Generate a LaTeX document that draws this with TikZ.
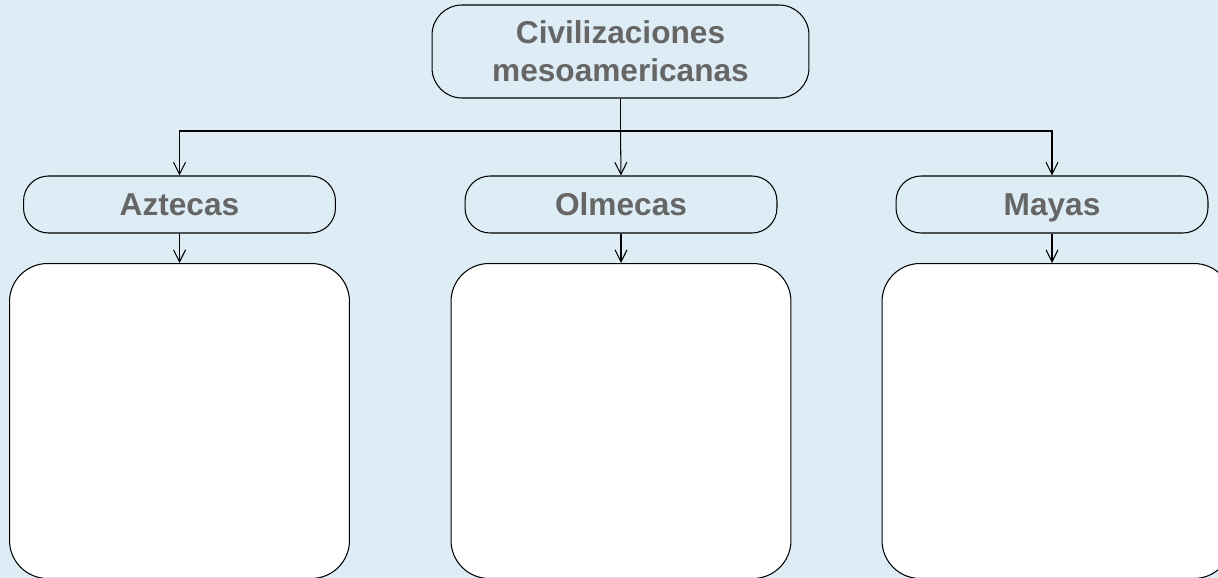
\documentclass[tikz,border=0pt]{standalone}
\usepackage{xcolor}
\usepackage{fontspec}
\setmainfont{Liberation Sans}
\usepackage{tikz}
\usetikzlibrary{arrows.meta}

\definecolor{bgblue}{RGB}{222,236,246}
\definecolor{labelgray}{RGB}{102,102,102}

\tikzset{
  title/.style={draw, rounded corners=0.6cm, fill=bgblue, line width=0.6pt,
    minimum width=7.54cm, minimum height=1.86cm, align=center,
    font=\fontsize{18}{21.6}\selectfont\bfseries, text=labelgray},
  civ/.style={draw, rounded corners=0.5cm, fill=bgblue, line width=0.6pt,
    minimum width=6.24cm, minimum height=1.14cm, text height=13pt, text depth=0pt,
    font=\fontsize{18}{21.6}\selectfont\bfseries, text=labelgray},
  answer/.style={draw, rounded corners=0.76cm, fill=white, line width=0.6pt,
    minimum width=6.8cm, minimum height=6.3cm},
  arr/.style={line width=0.6pt, -{Straight Barb[length=2.4mm, width=2.4mm]}}
}

\begin{document}
\begin{tikzpicture}[x=0.02cm, y=-0.02cm]
    \useasboundingbox (0,0) rectangle (1218,578);
    \clip (0,0) rectangle (1218,578);
    \fill[bgblue] (0,0) rectangle (1218,578);

    \node[title] (Civ) at (620.5,51.5) {Civilizaciones\\mesoamericanas};
    \coordinate (Split) at (620.5,131);

    \node[civ] (Azt) at (179.5,204.5) {Aztecas};
    \node[civ] (Olm) at (621,204.5) {Olmecas};
    \node[civ] (May) at (1052,204.5) {Mayas};

    \node[answer, anchor=north] (AztBox) at (179.5,263) {};
    \node[answer, anchor=north] (OlmBox) at (621,263) {};
    \node[answer, anchor=north, minimum width=7cm] (MayBox) at (1057,263) {};

    \draw [line width=0.6pt] (Civ) -- (Split);
    \draw [arr] (Split) -| (Azt.north);
    \draw [arr] (Split) -- (Olm.north);
    \draw [arr] (Split) -| (May.north);

    \draw [arr] (Azt) -- (Azt.south |- AztBox.north);
    \draw [arr] (Olm) -- (Olm.south |- OlmBox.north);
    \draw [arr] (May) -- (May.south |- MayBox.north);
  \end{tikzpicture}
\end{document}
